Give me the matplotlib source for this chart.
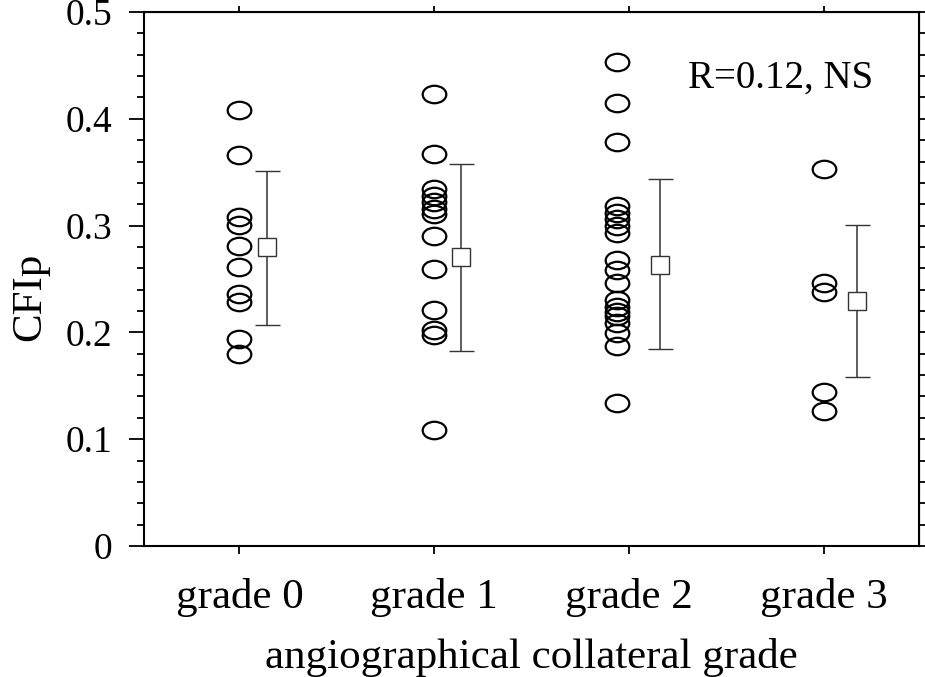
import matplotlib
matplotlib.use("Agg")
import matplotlib.pyplot as plt
from matplotlib.path import Path
from matplotlib.transforms import Affine2D
from matplotlib.ticker import MultipleLocator

plt.rcParams["font.family"] = ["Liberation Serif", "DejaVu Serif"]

# CFIp values per angiographical collateral grade
grades = ["grade 0", "grade 1", "grade 2", "grade 3"]
grade0 = [0.408, 0.366, 0.308, 0.301, 0.281, 0.261, 0.236, 0.228, 0.194, 0.180]
grade1 = [0.423, 0.367, 0.334, 0.328, 0.322, 0.316, 0.311, 0.290, 0.259, 0.221,
          0.202, 0.198, 0.109]
grade2 = [0.453, 0.415, 0.378, 0.318, 0.312, 0.306, 0.300, 0.293, 0.268, 0.258,
          0.246, 0.230, 0.224, 0.219, 0.215, 0.209, 0.199, 0.187, 0.134]
grade3 = [0.353, 0.246, 0.238, 0.144, 0.126]
groups = [grade0, grade1, grade2, grade3]

# mean and error bar ends per grade
means = [0.280, 0.271, 0.263, 0.229]
err_hi = [0.351, 0.358, 0.344, 0.301]
err_lo = [0.207, 0.183, 0.184, 0.158]

# horizontal offsets of the dots and the mean markers from each grade tick
dot_dx = [0.0, 0.0, -0.06, 0.0]
mean_dx = [0.14, 0.14, 0.16, 0.17]

# flattened open circle (ellipse) marker
ellipse = Path.unit_circle().transformed(Affine2D().scale(1.0, 0.74))

fig = plt.figure(figsize=(9.25, 6.77), dpi=100)
ax = fig.add_axes([0.1557, 0.1935, 0.8378, 0.7888])

for i, vals in enumerate(groups):
    ax.plot([i + dot_dx[i]] * len(vals), vals, linestyle="none", marker=ellipse,
            markersize=17, markerfacecolor="none", markeredgecolor="black",
            markeredgewidth=1.6)
    xm = i + mean_dx[i]
    ax.errorbar([xm], [means[i]],
                yerr=[[means[i] - err_lo[i]], [err_hi[i] - means[i]]],
                fmt="s", markersize=13.5, markerfacecolor="white",
                markeredgecolor="#333333", markeredgewidth=1.0,
                ecolor="#333333", elinewidth=1.1, capsize=9, capthick=1.1)

ax.text(2.78, 0.438, "R=0.12, NS", fontsize=28, ha="center", va="center")

ax.set_xlim(-0.49, 3.49)
ax.set_ylim(0, 0.5)
ax.set_xticks(range(len(grades)))
ax.set_xticklabels(grades, fontsize=31)
ax.yaxis.set_major_locator(MultipleLocator(0.1))
ax.yaxis.set_minor_locator(MultipleLocator(0.02))
ax.set_yticks([0, 0.1, 0.2, 0.3, 0.4, 0.5])
ax.set_yticklabels(["0", "0.1", "0.2", "0.3", "0.4", "0.5"], fontsize=27)

ax.tick_params(axis="y", which="major", direction="out", length=11, width=1.3, pad=12)
ax.tick_params(axis="y", which="minor", direction="out", length=5, width=1.3)
ax.tick_params(axis="x", which="major", direction="out", length=6, width=1.3, pad=17)

for s in ax.spines.values():
    s.set_linewidth(1.5)

# short ticks on the right and top frames
right = ax.secondary_yaxis("right")
right.yaxis.set_major_locator(MultipleLocator(0.1))
right.yaxis.set_minor_locator(MultipleLocator(0.02))
right.tick_params(which="both", direction="out", length=5, width=1.3, labelright=False)
top = ax.secondary_xaxis("top")
top.set_xticks(range(len(grades)))
top.tick_params(direction="out", length=4, width=1.3, labeltop=False)

ax.set_xlabel("angiographical collateral grade", fontsize=31, labelpad=15)
ax.set_ylabel("CFIp", fontsize=31)
ax.yaxis.set_label_coords(-0.122, 0.466)

plt.savefig("out.png", dpi=100)
